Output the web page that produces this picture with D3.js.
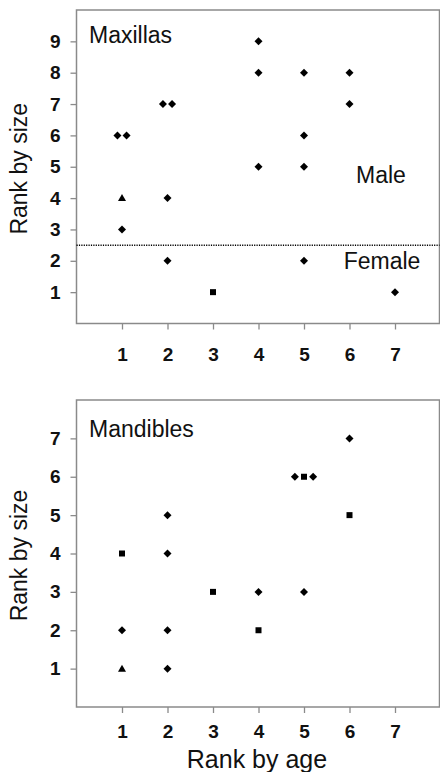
<!DOCTYPE html>
<html><head><meta charset="utf-8">
<script src="https://cdn.jsdelivr.net/npm/d3@7"></script>
<style>body{margin:0;background:#fff}svg{display:block}</style>
</head><body>
<script>
// Maxillas panel data: [rank by age (with small horizontal offset), rank by size]
const maxDiamonds = [[0.9,6],[1.1,6],[1,3],[1.9,7],[2.1,7],[2,4],[2,2],[4,9],[4,8],[4,5],[5,8],[5,6],[5,5],[5,2],[6,8],[6,7],[7,1]];
const maxTriangles = [[1,4]];
const maxSquares = [[3,1]];
// Mandibles panel data
const manDiamonds = [[1,2],[2,5],[2,4],[2,2],[2,1],[4,3],[4.8,6],[5.2,6],[5,3],[6,7]];
const manTriangles = [[1,1]];
const manSquares = [[1,4],[3,3],[4,2],[5,6],[6,5]];
const xTicks = [1,2,3,4,5,6,7];
const maxYTicks = [1,2,3,4,5,6,7,8,9];
const manYTicks = [1,2,3,4,5,6,7];
const sexThreshold = 2.5;

const W = 440, H = 772;
const svg = d3.select("body").append("svg").attr("width", W).attr("height", H);
const font = "Liberation Sans, Arial, sans-serif";

const diamondPath = "M0,-4L4,0L0,4L-4,0Z";
const trianglePath = "M0,-4L4,3L-4,3Z";
const squarePath = "M-3,-3H3V3H-3Z";

function panel(top, bottom, yMax, yTicks, diamonds, triangles, squares, title, titleY, xPad) {
  const left = 76.5, right = 439.5;
  const x = d3.scaleLinear().domain([0, 8]).range([left, left + 8 * 45.5]);
  const y = d3.scaleLinear().domain([0, yMax]).range([bottom, top]);
  const g = svg.append("g");
  g.append("rect").attr("x", left).attr("y", top).attr("width", right - left).attr("height", bottom - top)
    .attr("fill", "none").attr("stroke", "#8a8a8a").attr("stroke-width", 1.5);
  const xa = g.append("g").attr("transform", `translate(0,${bottom})`)
    .call(d3.axisBottom(x).tickValues(xTicks).tickSize(6).tickPadding(xPad).tickFormat(d3.format("d")));
  xa.select(".domain").remove();
  xa.selectAll("line").attr("stroke", "#8a8a8a").attr("stroke-width", 1.3);
  xa.selectAll("text").attr("font-family", font).attr("font-weight", "bold").attr("font-size", 19).attr("fill", "#111");
  const ya = g.append("g").attr("transform", `translate(${left},0)`)
    .call(d3.axisLeft(y).tickValues(yTicks).tickSize(6).tickPadding(10).tickFormat(d3.format("d")));
  ya.select(".domain").remove();
  ya.selectAll("line").attr("stroke", "#8a8a8a").attr("stroke-width", 1.3);
  ya.selectAll("text").attr("font-family", font).attr("font-weight", "bold").attr("font-size", 19).attr("fill", "#111");
  g.append("text").attr("transform", `translate(27,${(top + bottom) / 2 + 2}) rotate(-90)`)
    .attr("text-anchor", "middle").attr("font-family", font).attr("font-size", 23).attr("fill", "#111").text("Rank by size");
  g.append("text").attr("x", 89).attr("y", titleY).attr("font-family", font).attr("font-size", 23).attr("fill", "#111").text(title);
  g.selectAll(".dm").data(diamonds).join("path").attr("d", diamondPath)
    .attr("transform", d => `translate(${x(d[0])},${y(d[1])})`).attr("fill", "#000");
  g.selectAll(".tr").data(triangles).join("path").attr("d", trianglePath)
    .attr("transform", d => `translate(${x(d[0])},${y(d[1])})`).attr("fill", "#000");
  g.selectAll(".sq").data(squares).join("path").attr("d", squarePath)
    .attr("transform", d => `translate(${x(d[0])},${y(d[1])})`).attr("fill", "#000");
  return {x, y, g, left, right};
}

const p1 = panel(10, 323.5, 10, maxYTicks, maxDiamonds, maxTriangles, maxSquares, "Maxillas", 43, 18);
p1.g.append("line").attr("x1", p1.left).attr("x2", p1.right).attr("y1", p1.y(sexThreshold)).attr("y2", p1.y(sexThreshold))
  .attr("stroke", "#000").attr("stroke-width", 1.5).attr("stroke-dasharray", "1.2,1.2");
p1.g.append("text").attr("x", 381).attr("y", 183).attr("text-anchor", "middle").attr("font-family", font).attr("font-size", 23).attr("fill", "#111").text("Male");
p1.g.append("text").attr("x", 382).attr("y", 269).attr("text-anchor", "middle").attr("font-family", font).attr("font-size", 23).attr("fill", "#111").text("Female");

const p2 = panel(400, 707, 8, manYTicks, manDiamonds, manTriangles, manSquares, "Mandibles", 437, 12);
svg.append("text").attr("x", 257).attr("y", 768).attr("text-anchor", "middle").attr("font-family", font).attr("font-size", 25).attr("fill", "#111").text("Rank by age");
</script>
</body></html>
